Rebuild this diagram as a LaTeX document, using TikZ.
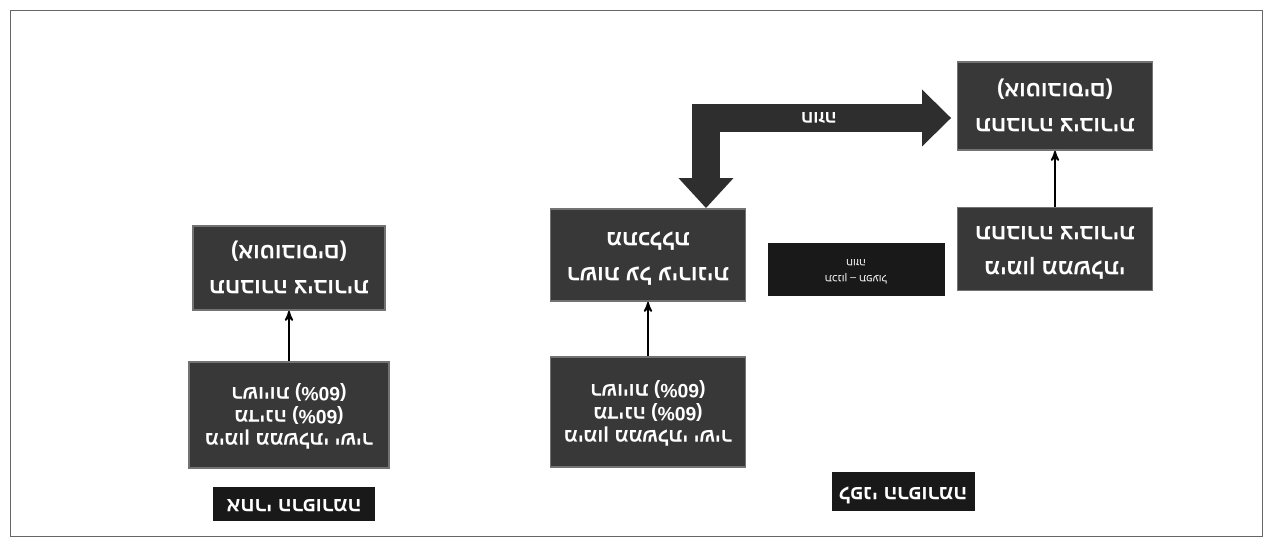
\documentclass[tikz,border=0pt]{standalone}
\usepackage{fontspec}
\usepackage{tikz}
\usetikzlibrary{positioning}
\usetikzlibrary{arrows,arrows.meta}
\newfontfamily\hebfont[Script=Hebrew]{Liberation Sans}
\TeXXeTstate=1
\newcommand{\heb}[1]{\beginR #1\endR}
\newcommand{\flipped}[1]{\rotatebox[origin=c]{180}{\begin{tabular}{@{}c@{}}#1\end{tabular}}}

\begin{document}
\begin{tikzpicture}[node distance=10mm,on grid,>=stealth',
		panel/.style={rectangle,fill=black!78,draw=black!55,line width=1pt,text=white,inner sep=0pt,minimum width=3.9cm,font=\hebfont\bfseries\fontsize{12.5}{15}\selectfont},
		fundbox/.style={panel,font=\hebfont\bfseries\fontsize{11}{13}\selectfont},
		tag/.style={rectangle,fill=black!90,text=white,inner sep=0pt,font=\hebfont\bfseries\fontsize{11.5}{13.5}\selectfont}]
		\useasboundingbox (0,0) rectangle (25.42,10.88);
		\draw[black!60] (0.2,0.16) rectangle (25.24,10.68);

		% left side
		\node[panel,minimum width=3.84cm,minimum height=1.68cm] (busL) at (5.78,5.52)
			{\flipped{\heb{תחבורה ציבורית}\\[5pt] \heb{(אוטובוסים)}}};
		\node[fundbox,minimum width=4cm,minimum height=2.12cm] (fundL) [below=2.94cm of busL]
			{\flipped{\heb{מימון ממשלתי ישיר}\\[0pt] \heb{מדינה \beginL(60\%)\endL{}}\\[0pt] \heb{רשויות \beginL(60\%)\endL{}}}};
		\node[tag,minimum width=3.24cm,minimum height=0.68cm] (lblL) [below=1.78cm of fundL,xshift=0.1cm]
			{\flipped{\heb{אחרי הרפורמה}}};

		% right side
		\node[panel,minimum height=1.84cm] (oper) at (12.96,5.78)
			{\flipped{\heb{רשות על עירונית}\\[5pt] \heb{מתכללת}}};
		\node[fundbox,minimum height=2.2cm] (fundR) [below=3.14cm of oper]
			{\flipped{\heb{מימון ממשלתי ישיר}\\[0pt] \heb{מדינה \beginL(60\%)\endL{}}\\[0pt] \heb{רשויות \beginL(60\%)\endL{}}}};
		\node[tag,minimum width=3.54cm,minimum height=1.06cm,text=white!80,font=\hebfont\fontsize{6}{7}\selectfont] (deal) [right=4.16cm of oper,yshift=-0.3cm]
			{\flipped{\heb{תכנון – תפעול}\\[2pt] \heb{חוזה}}};
		\node[panel,minimum height=1.76cm] (busR) at (21.10,8.76)
			{\flipped{\heb{תחבורה ציבורית}\\[5pt] \heb{(אוטובוסים)}}};
		\node[panel,minimum height=1.66cm] (govR) [below=2.86cm of busR]
			{\flipped{\heb{מימון ממשלתי}\\[5pt] \heb{תחבורה ציבורית}}};
		\node[tag,minimum width=2.86cm,minimum height=0.78cm] (lblR) at (18.06,1.04)
			{\flipped{\heb{לפני הרפורמה}}};

		\path[->,line width=1pt]
		(fundL) edge (busL)
		(fundR) edge (oper)
		(govR) edge (busR);

		\draw[line width=0.56cm,black!82,{Triangle[length=0.6cm,width=1.06cm]}-{Triangle[length=0.58cm,width=1.1cm]}]
			([xshift=1.16cm]oper.north) |- ([xshift=-0.11cm,yshift=-0.24cm]busR.west)
			node[pos=0.73,text=white,font=\hebfont\bfseries\fontsize{10}{11}\selectfont] (dealtxt) {\rotatebox{180}{\heb{חוזה}}};
\end{tikzpicture}
\end{document}
